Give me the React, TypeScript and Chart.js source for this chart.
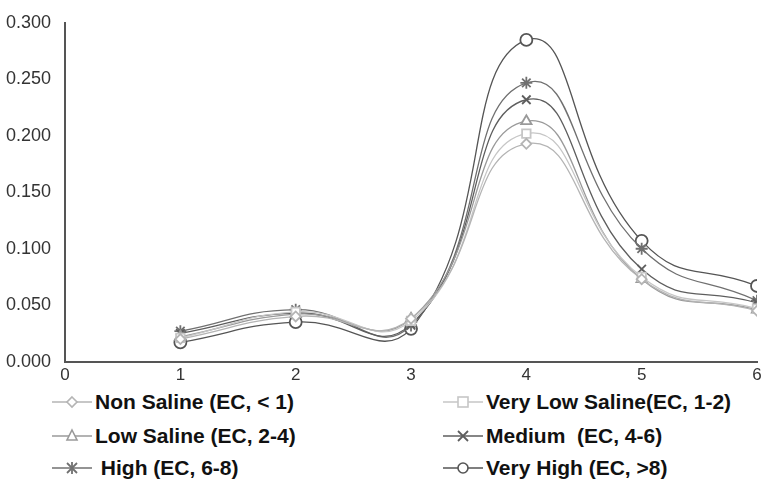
import React, { useEffect, useRef } from "react";
import { Chart, registerables } from "chart.js";

Chart.register(...registerables);

const xValues = [1, 2, 3, 4, 5, 6];
const xTicks = [0, 1, 2, 3, 4, 5, 6];
const yTicks = [0, 0.05, 0.1, 0.15, 0.2, 0.25, 0.3];

const nonSaline = [0.020, 0.040, 0.038, 0.193, 0.073, 0.045];
const veryLowSaline = [0.021, 0.044, 0.036, 0.202, 0.075, 0.047];
const lowSaline = [0.022, 0.042, 0.038, 0.213, 0.073, 0.046];
const medium = [0.025, 0.043, 0.033, 0.232, 0.082, 0.052];
const high = [0.027, 0.046, 0.032, 0.247, 0.100, 0.054];
const veryHigh = [0.017, 0.035, 0.029, 0.285, 0.107, 0.067];

const seriesNames = [
  "Non Saline (EC, < 1)",
  "Very Low Saline(EC, 1-2)",
  "Low Saline (EC, 2-4)",
  "Medium  (EC, 4-6)",
  " High (EC, 6-8)",
  "Very High (EC, >8)",
];

const seriesData = [nonSaline, veryLowSaline, lowSaline, medium, high, veryHigh];
const seriesColors = ["#b4b4b4", "#c6c6c6", "#9a9a9a", "#5e5e5e", "#707070", "#555555"];
const seriesStyles = ["rectRot", "rect", "triangle", "crossRot", "star", "circle"];
const seriesRadius = [5, 6, 6, 6, 6, 6];

function Marker({ kind, color }: { kind: string; color: string }) {
  const c = 22;
  const m = 10;
  let shape: React.ReactNode = null;
  if (kind === "rectRot") shape = <polygon points={`${c},${m - 5} ${c + 5},${m} ${c},${m + 5} ${c - 5},${m}`} fill="white" stroke={color} strokeWidth={1.6} />;
  if (kind === "rect") shape = <rect x={c - 5} y={m - 5} width={10} height={10} fill="white" stroke={color} strokeWidth={1.6} />;
  if (kind === "triangle") shape = <polygon points={`${c},${m - 6} ${c + 5},${m + 4} ${c - 5},${m + 4}`} fill="white" stroke={color} strokeWidth={1.6} />;
  if (kind === "crossRot") shape = <g stroke={color} strokeWidth={1.8}><line x1={c - 5} y1={m - 5} x2={c + 5} y2={m + 5} /><line x1={c - 5} y1={m + 5} x2={c + 5} y2={m - 5} /></g>;
  if (kind === "star") shape = <g stroke={color} strokeWidth={1.8}><line x1={c - 5} y1={m - 5} x2={c + 5} y2={m + 5} /><line x1={c - 5} y1={m + 5} x2={c + 5} y2={m - 5} /><line x1={c} y1={m - 6} x2={c} y2={m + 6} /></g>;
  if (kind === "circle") shape = <circle cx={c} cy={m} r={5} fill="white" stroke={color} strokeWidth={1.6} />;
  return (
    <svg width={44} height={20} style={{ display: "block" }}>
      <line x1={2} y1={m} x2={42} y2={m} stroke={color} strokeWidth={1.4} />
      {shape}
    </svg>
  );
}

export default function App() {
  const ref = useRef<HTMLCanvasElement | null>(null);

  useEffect(() => {
    document.body.style.margin = "0";
    const canvas = ref.current;
    if (!canvas) return;
    const chart = new Chart(canvas, {
      type: "line",
      data: {
        datasets: seriesData.map((vals, i) => ({
          label: seriesNames[i],
          data: vals.map((v, j) => ({ x: xValues[j], y: v })),
          borderColor: seriesColors[i],
          borderWidth: 1.3,
          tension: 0.5,
          pointStyle: seriesStyles[i] as any,
          pointRadius: seriesRadius[i],
          pointBorderWidth: 1.8,
          pointBorderColor: seriesColors[i],
          pointBackgroundColor: "#ffffff",
          fill: false,
        })),
      },
      options: {
        responsive: false,
        animation: false,
        layout: { padding: { left: 0, right: 14, top: 23, bottom: 8 } },
        plugins: { legend: { display: false }, tooltip: { enabled: false } },
        scales: {
          x: {
            type: "linear",
            min: 0,
            max: 6,
            afterBuildTicks: (axis: any) => {
              axis.ticks = xTicks.map((v) => ({ value: v }));
            },
            grid: { display: false },
            border: { display: true, color: "#555555", width: 2 },
            ticks: {
              color: "#333333",
              padding: -4,
              font: { family: "Liberation Sans, Arial, sans-serif", size: 17 },
              callback: (v: any) => String(v),
            },
          },
          y: {
            type: "linear",
            min: 0,
            max: 0.3,
            afterBuildTicks: (axis: any) => {
              axis.ticks = yTicks.map((v) => ({ value: v }));
            },
            grid: { display: false },
            border: { display: true, color: "#555555", width: 2 },
            ticks: {
              color: "#333333",
              padding: 6,
              font: { family: "Liberation Sans, Arial, sans-serif", size: 18 },
              callback: (v: any) => Number(v).toFixed(3),
            },
          },
        },
      },
    });
    return () => chart.destroy();
  }, []);

  const legendPos = [
    { left: 50, top: 402 },
    { left: 441, top: 402 },
    { left: 50, top: 436 },
    { left: 441, top: 436 },
    { left: 50, top: 468 },
    { left: 441, top: 468 },
  ];

  return (
    <div style={{ position: "relative", width: 771, height: 485, background: "#fff" }}>
      <canvas ref={ref} width={771} height={390} style={{ position: "absolute", left: 0, top: 0 }} />
      {seriesNames.map((name, i) => (
        <div
          key={name}
          style={{
            position: "absolute",
            left: legendPos[i].left,
            top: legendPos[i].top - 12,
            height: 24,
            display: "flex",
            alignItems: "center",
            whiteSpace: "pre",
            fontFamily: "Liberation Sans, Arial, sans-serif",
            fontWeight: "bold",
            fontSize: 21,
            color: "#111",
          }}
        >
          <Marker kind={seriesStyles[i]} color={seriesColors[i]} />
          <span style={{ marginLeft: 1 }}>{name}</span>
        </div>
      ))}
    </div>
  );
}
